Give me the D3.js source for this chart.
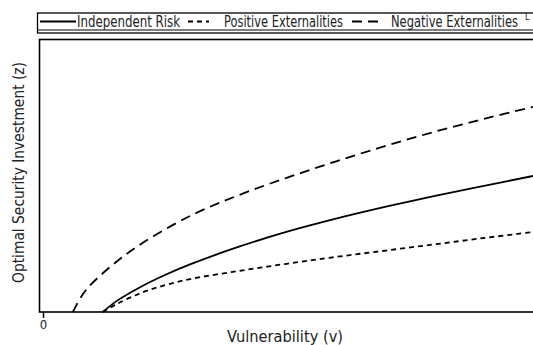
<!DOCTYPE html>
<meta charset="utf-8">
<style>
body { margin: 0; background: #fff; overflow: hidden; }
svg { display: block; }
text { font-family: "DejaVu Sans Condensed", "Liberation Sans Narrow", sans-serif; fill: #222; }
.frame { fill: none; stroke: #000; stroke-width: 1.6px; }
.curve { fill: none; stroke: #000; stroke-width: 1.8px; }
</style>
<body>
<svg width="560" height="345"></svg>
<script src="https://d3js.org/d3.v7.min.js"></script>
<script>

// vulnerability v and optimal investment z for each case
var indepV = [0.122, 0.15, 0.2, 0.25, 0.3, 0.4, 0.5, 0.6, 0.7, 0.8, 0.9, 1.0];
var indepZ = [0, 0.40, 0.93, 1.37, 1.75, 2.40, 2.96, 3.44, 3.87, 4.27, 4.64, 5.0];

var posV = [0.122, 0.15, 0.2, 0.25, 0.3, 0.4, 0.5, 0.6, 0.7, 0.8, 0.9, 1.0];
var posZ = [0, 0.29, 0.70, 0.99, 1.21, 1.51, 1.78, 2.03, 2.26, 2.49, 2.72, 2.94];

var negV = [0.061, 0.08, 0.1, 0.15, 0.2, 0.3, 0.4, 0.5, 0.6, 0.7, 0.8, 0.9, 1.0];
var negZ = [0, 0.62, 1.05, 1.85, 2.50, 3.53, 4.30, 4.95, 5.55, 6.11, 6.63, 7.10, 7.54];

var legendLabels = ["Independent Risk", "Positive Externalities", "Negative Externalities"];
var xTicks = [0];

var svg = d3.select("svg");

var x = d3.scaleLinear().domain([0, 1]).range([43, 533]);
var y = d3.scaleLinear().domain([0, 10]).range([312, 40]);

var line = d3.line()
  .x(function(d) { return x(d[0]); })
  .y(function(d) { return y(d[1]); })
  .curve(d3.curveCatmullRom.alpha(0.5));

function zip(a, b) { return a.map(function(v, i) { return [v, b[i]]; }); }

var series = [
  { pts: zip(indepV, indepZ), dash: null },
  { pts: zip(posV, posZ), dash: "5,4" },
  { pts: zip(negV, negZ), dash: "10,6" }
];

// plot frame
svg.append("rect")
  .attr("class", "frame")
  .attr("x", 39.5).attr("y", 39.5)
  .attr("width", 520).attr("height", 272.5);

svg.selectAll(".curve").data(series)
  .enter()
  .append("path")
  .attr("class", "curve")
  .attr("d", function(d) { return line(d.pts); })
  .style("stroke-dasharray", function(d) { return d.dash; });

// x axis tick
var xAxis = d3.axisBottom(x).tickValues(xTicks).tickSize(6).tickPadding(2).tickFormat(d3.format("d"));
var gX = svg.append("g").attr("transform", "translate(0,312)").call(xAxis);
gX.select(".domain").remove();
gX.selectAll("line").attr("stroke", "#000").attr("stroke-width", 1.5);
gX.selectAll("text").style("font-size", "13px").style("font-family", null).attr("fill", "#333");

svg.append("text")
  .attr("x", 227).attr("y", 342)
  .attr("textLength", 116).attr("lengthAdjust", "spacingAndGlyphs")
  .style("font-size", "15px")
  .text("Vulnerability (v)");

svg.append("text")
  .attr("transform", "translate(24,283) rotate(-90)")
  .attr("textLength", 221).attr("lengthAdjust", "spacingAndGlyphs")
  .style("font-size", "15px")
  .text("Optimal Security Investment (z)");

// legend
svg.append("rect")
  .attr("class", "frame")
  .attr("x", 37.5).attr("y", 13)
  .attr("width", 520).attr("height", 20)
  .style("stroke-width", "1.3px");
svg.append("line")
  .attr("x1", 37.5).attr("x2", 560)
  .attr("y1", 30).attr("y2", 30)
  .attr("stroke", "#000").attr("stroke-width", 1.2);

var legendItems = [
  { x1: 40, x2: 76, tx: 77, w: 103, dash: null },
  { x1: 188, x2: 209, tx: 224, w: 119, dash: "5,4" },
  { x1: 352, x2: 384, tx: 391, w: 127, dash: "10,6" }
];

var lg = svg.selectAll(".leg").data(legendItems)
  .enter().append("g").attr("class", "leg");

lg.append("line")
  .attr("x1", function(d) { return d.x1; })
  .attr("x2", function(d) { return d.x2; })
  .attr("y1", 21.5).attr("y2", 21.5)
  .attr("stroke", "#000").attr("stroke-width", 1.8)
  .style("stroke-dasharray", function(d) { return d.dash; });

lg.append("text")
  .attr("x", function(d) { return d.tx; })
  .attr("y", 27)
  .attr("textLength", function(d) { return d.w; })
  .attr("lengthAdjust", "spacingAndGlyphs")
  .style("font-size", "15px")
  .text(function(d, i) { return legendLabels[i]; });

svg.append("text")
  .attr("x", 525).attr("y", 20)
  .style("font-size", "9px")
  .text("L");

</script>
</body>
